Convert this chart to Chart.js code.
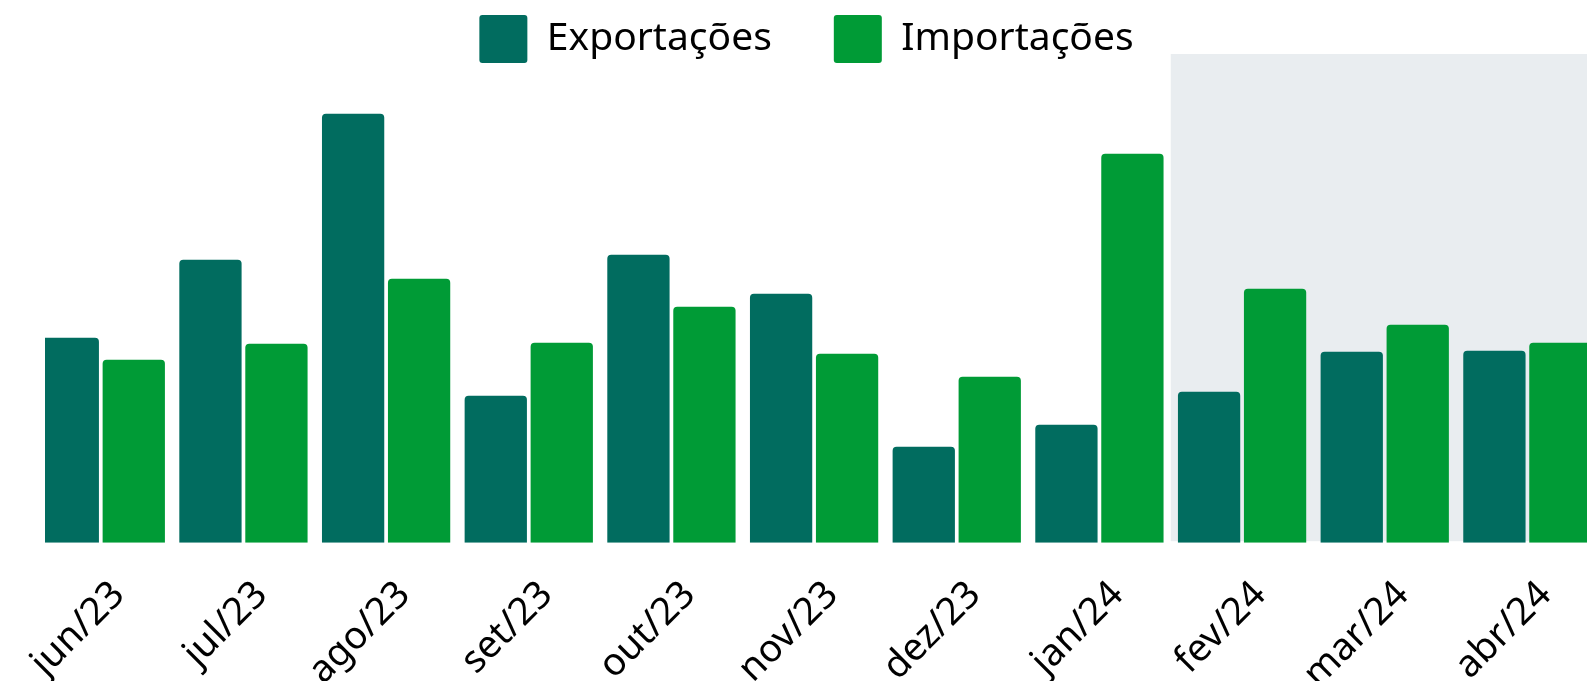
<!DOCTYPE html>
<html><head><meta charset="utf-8">
<script src="https://cdn.jsdelivr.net/npm/chart.js@4/dist/chart.umd.min.js"></script>
<style>
html,body{margin:0;padding:0;overflow:hidden;background:#fff}
#wrap{position:absolute;left:0;top:0;width:1613px;height:681px}
</style></head>
<body><div id="wrap"><canvas id="c"></canvas></div>
<script>
const categories = ['jun/23','jul/23','ago/23','set/23','out/23','nov/23','dez/23','jan/24','fev/24','mar/24','abr/24'];
const exportacoes = [205, 283, 429, 147, 288, 249, 96, 118, 151, 191, 192];
const importacoes = [183, 199, 264, 200, 236, 189, 166, 389, 254, 218, 200];
const seriesNames = ['Exportações', 'Importações'];
const shadedFrom = 'fev/24';

const FONT = "'Noto Sans', sans-serif";

const shadePlugin = {
  id: 'shade',
  beforeDatasetsDraw(chart) {
    const {ctx, chartArea, scales: {x}} = chart;
    const idx = categories.indexOf(shadedFrom);
    const left = x.getPixelForValue(idx - 0.5);
    ctx.save();
    ctx.fillStyle = '#e9edf0';
    ctx.fillRect(left, chartArea.top, chartArea.right - left, chartArea.bottom - chartArea.top - 1.5);
    ctx.restore();
  }
};

const legendFit = {
  id: 'legendFit',
  afterInit(chart) {
    const lg = chart.legend;
    const orig = lg.fit;
    lg.fit = function () { orig.call(this); this.height = 101; };
  },
  afterLayout(chart) {
    const lg = chart.legend;
    lg.bottom += 30;
    lg.height += 30;
  }
};

new Chart(document.getElementById('c'), {
  type: 'bar',
  data: {
    datasets: [
      { label: seriesNames[0], data: exportacoes.map((v, i) => ({x: i, y: v})), backgroundColor: '#016c5f',
        borderRadius: 4, borderSkipped: 'start', clip: 0, categoryPercentage: 0.925, barPercentage: 0.944 },
      { label: seriesNames[1], data: importacoes.map((v, i) => ({x: i, y: v})), backgroundColor: '#009b36',
        borderRadius: 4, borderSkipped: 'start', clip: 0, categoryPercentage: 0.925, barPercentage: 0.944 }
    ]
  },
  plugins: [shadePlugin, legendFit],
  options: {
    animation: false,
    responsive: true,
    maintainAspectRatio: false,
    devicePixelRatio: 1,
    layout: { autoPadding: false, padding: { top: -47, left: 0, right: 0, bottom: 0 } },
    plugins: {
      legend: {
        position: 'top',
        labels: { boxWidth: 48, boxHeight: 48, padding: 62, color: '#000', useBorderRadius: true, borderRadius: 3,
          font: { size: 39, family: FONT } }
      },
      tooltip: { enabled: false }
    },
    scales: {
      x: {
        type: 'linear', min: -0.391, max: 10.6, offset: false,
        grid: { display: false }, border: { display: false },
        afterBuildTicks: s => { s.ticks = categories.map((_, i) => ({ value: i })); },
        afterFit: s => { s.height = 138.3; s.paddingLeft = 0; s.paddingRight = 0; },
        ticks: { autoSkip: false, minRotation: 45, maxRotation: 45, padding: 22, labelOffset: 18, color: '#000',
          font: { size: 38, family: FONT }, callback: v => categories[v] }
      },
      y: {
        display: true, min: 0, max: 488.7,
        grid: { display: false }, border: { display: false }, ticks: { display: false },
        afterFit: s => { s.width = 45; }
      }
    }
  }
});
</script>
</body></html>
